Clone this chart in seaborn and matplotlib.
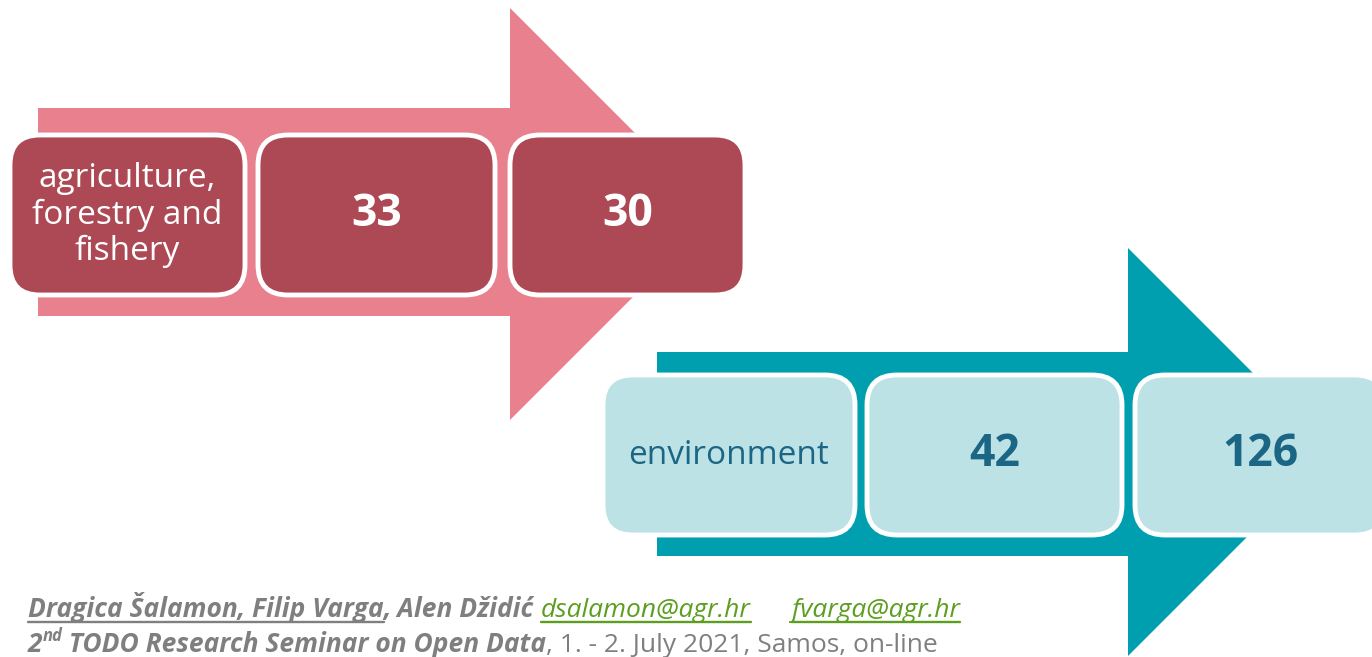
import matplotlib
matplotlib.use("Agg")
import matplotlib.pyplot as plt
from matplotlib.patches import FancyBboxPatch, Polygon
import seaborn as sns

# data
categories = ["agriculture,\nforestry and\nfishery", "environment"]
count_a = [33, 42]
count_b = [30, 126]

arrow_colors = ["#E8808E", "#009FAF"]
box_colors = ["#AD4855", "#BDE2E5"]
text_colors = ["white", "#1B6685"]

sns.set_theme(style="white")
plt.rcParams['font.family'] = ['Open Sans', 'DejaVu Sans']

W, H = 1372, 657
fig = plt.figure(figsize=(W / 100, H / 100), dpi=100)
ax = fig.add_axes([0, 0, 1, 1])
ax.set_xlim(0, W)
ax.set_ylim(H, 0)
ax.axis("off")

# row layout in pixels
rows = [
    dict(x0=38, top=108, bot=316, hx=510, htop=8, hbot=420, tip=716,
         by=135, bh=160, bx=[10, 258, 510], bw=[235, 237, 235]),
    dict(x0=657, top=352, bot=556, hx=1128, htop=248, hbot=656, tip=1332,
         by=375, bh=160, bx=[603, 867, 1135], bw=[252, 255, 250]),
]

for i, r in enumerate(rows):
    cy = (r["htop"] + r["hbot"]) / 2
    pts = [(r["x0"], r["top"]), (r["hx"], r["top"]), (r["hx"], r["htop"]),
           (r["tip"], cy), (r["hx"], r["hbot"]), (r["hx"], r["bot"]),
           (r["x0"], r["bot"])]
    ax.add_patch(Polygon(pts, closed=True, facecolor=arrow_colors[i],
                         edgecolor="none", zorder=1))
    labels = [categories[i], str(count_a[i]), str(count_b[i])]
    for j in range(3):
        ax.add_patch(FancyBboxPatch((r["bx"][j], r["by"]), r["bw"][j], r["bh"],
                                    boxstyle="round,pad=0,rounding_size=30",
                                    facecolor=box_colors[i], edgecolor="white",
                                    linewidth=3.5, zorder=2))
        cx = r["bx"][j] + r["bw"][j] / 2
        cyb = r["by"] + r["bh"] / 2
        if j == 0:
            ax.text(cx, cyb, labels[j], ha="center", va="center",
                    color=text_colors[i], fontsize=24, linespacing=1.12,
                    zorder=3)
        else:
            ax.text(cx, cyb, labels[j], ha="center", va="center",
                    color=text_colors[i], fontsize=32, fontweight="bold",
                    zorder=3)

# footer text, drawn as runs
fig.canvas.draw()
renderer = fig.canvas.get_renderer()
grey = "#7F7F7F"
green = "#5C9E1F"


def run(x, y, s, color, weight="bold", style="italic", size=19, underline=False):
    t = ax.text(x, y, s, color=color, fontsize=size, fontweight=weight,
                fontstyle=style, va="baseline", ha="left", zorder=4)
    bb = t.get_window_extent(renderer)
    x1 = x + bb.width
    if underline:
        ax.plot([x, x1], [y + 5, y + 5], color=color, lw=1.7, zorder=4)
    return x1

y1 = 617
x = 28
x = run(x, y1, "Dragica Šalamon, Filip Varga", grey, underline=True)
x = run(x, y1, ", Alen Džidić ", grey)
x = run(x, y1, "dsalamon@agr.hr", green, weight="normal", underline=True)
x = run(x, y1, "      ", green, weight="normal")
x = run(x, y1, "fvarga@agr.hr", green, weight="normal", underline=True)

y2 = 652
x = 28
x = run(x, y2, "2", grey)
x = run(x, y2 - 11, "nd", grey, size=12)
x = run(x, y2, " TODO Research Seminar on Open Data", grey)
x = run(x, y2, ", 1. - 2. July 2021, Samos, on-line", grey, weight="normal",
        style="normal")

fig.savefig("out.png", dpi=100)
